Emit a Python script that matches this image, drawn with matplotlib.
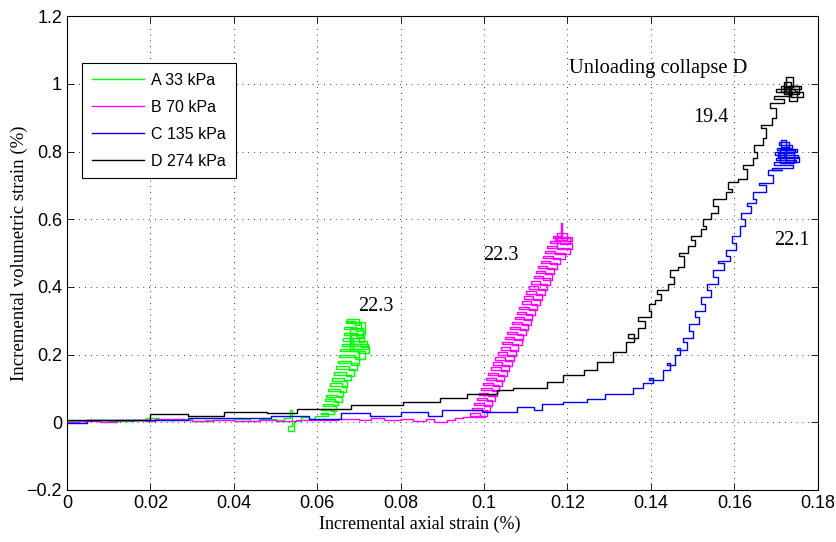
import matplotlib
matplotlib.use("Agg")
import matplotlib.pyplot as plt
from matplotlib.ticker import FuncFormatter

# A 33 kPa
xA = [0.000, 0.004, 0.010, 0.016, 0.019, 0.022, 0.026, 0.030, 0.033, 0.036, 0.040, 0.044,
      0.046, 0.050, 0.052, 0.0535, 0.0540, 0.0530, 0.0545, 0.0560, 0.0580, 0.0595,
      0.0600, 0.0625, 0.0608, 0.0640, 0.0610, 0.0632, 0.0645, 0.0615, 0.0638, 0.0650,
      0.0618, 0.0642, 0.0660, 0.0622, 0.0648, 0.0662, 0.0625, 0.0655, 0.0668, 0.0630,
      0.0660, 0.0672, 0.0635, 0.0665, 0.0680, 0.0640, 0.0670, 0.0688, 0.0645, 0.0675,
      0.0695, 0.0650, 0.0682, 0.0700, 0.0652, 0.0690, 0.0715, 0.0655, 0.0698, 0.0725,
      0.0660, 0.0705, 0.0720, 0.0662, 0.0700, 0.0712, 0.0665, 0.0695, 0.0710, 0.0664,
      0.0692, 0.0705, 0.0668, 0.0690, 0.0700, 0.0672, 0.0715, 0.0680, 0.0722, 0.0685,
      0.0710, 0.0678, 0.0700]
yA = [0.003, 0.006, 0.004, 0.008, 0.012, 0.008, 0.010, 0.004, 0.008, 0.006, 0.009, 0.005,
      0.010, 0.006, 0.012, 0.035, -0.010, -0.025, 0.005, 0.015, 0.010, 0.020,
      0.020, 0.028, 0.024, 0.035, 0.040, 0.032, 0.048, 0.055, 0.050, 0.062,
      0.068, 0.060, 0.075, 0.082, 0.078, 0.092, 0.098, 0.090, 0.108, 0.115,
      0.105, 0.122, 0.130, 0.125, 0.140, 0.148, 0.138, 0.158, 0.165, 0.155,
      0.175, 0.182, 0.170, 0.192, 0.200, 0.188, 0.210, 0.218, 0.205, 0.225,
      0.232, 0.222, 0.240, 0.248, 0.238, 0.258, 0.265, 0.252, 0.275, 0.282,
      0.270, 0.292, 0.300, 0.288, 0.305, 0.296, 0.262, 0.230, 0.218, 0.250,
      0.280, 0.210, 0.180]

# B 70 kPa
xB = [0.000, 0.003, 0.008, 0.012, 0.019, 0.021, 0.028, 0.030, 0.035, 0.040, 0.046, 0.050,
      0.055, 0.060, 0.065, 0.070, 0.073, 0.076, 0.080, 0.083, 0.086, 0.088, 0.091, 0.093,
      0.0950, 0.1003, 0.0966, 0.0990, 0.1008, 0.0970, 0.0996, 0.1015, 0.0975, 0.1000,
      0.1020, 0.0982, 0.1006, 0.1026, 0.0988, 0.1010, 0.1030, 0.0992, 0.1018, 0.1036,
      0.0998, 0.1022, 0.1044, 0.1004, 0.1028, 0.1048, 0.1010, 0.1034, 0.1055, 0.1016,
      0.1040, 0.1060, 0.1022, 0.1044, 0.1066, 0.1027, 0.1050, 0.1072, 0.1033, 0.1056,
      0.1076, 0.1040, 0.1062, 0.1082, 0.1044, 0.1068, 0.1090, 0.1050, 0.1072, 0.1094,
      0.1056, 0.1080, 0.1100, 0.1062, 0.1085, 0.1105, 0.1067, 0.1090, 0.1112, 0.1073,
      0.1096, 0.1116, 0.1079, 0.1100, 0.1122, 0.1084, 0.1108, 0.1128, 0.1090, 0.1112,
      0.1134, 0.1096, 0.1118, 0.1140, 0.1101, 0.1124, 0.1145, 0.1107, 0.1130, 0.1150,
      0.1113, 0.1135, 0.1158, 0.1119, 0.1142, 0.1162, 0.1124, 0.1146, 0.1168, 0.1130,
      0.1152, 0.1175, 0.1136, 0.1158, 0.1182, 0.1141, 0.1165, 0.1195, 0.1147, 0.1170,
      0.1205, 0.1152, 0.1176, 0.1210, 0.1158, 0.1182, 0.1205, 0.1165, 0.1185, 0.1188,
      0.1212, 0.1170, 0.1200, 0.1175]
yB = [0.000, 0.003, 0.002, 0.006, 0.004, 0.010, 0.008, 0.004, 0.006, 0.004, 0.008, 0.004,
      0.008, 0.006, 0.010, 0.006, 0.012, 0.006, 0.010, 0.004, 0.010, 0.002, 0.008, 0.012,
      0.016, 0.020, 0.027, 0.018, 0.035, 0.042, 0.033, 0.050, 0.057, 0.048,
      0.065, 0.072, 0.062, 0.080, 0.087, 0.078, 0.095, 0.102, 0.092, 0.110,
      0.117, 0.108, 0.125, 0.132, 0.122, 0.140, 0.147, 0.137, 0.155, 0.162,
      0.152, 0.170, 0.177, 0.167, 0.185, 0.192, 0.182, 0.200, 0.207, 0.197,
      0.215, 0.222, 0.212, 0.230, 0.237, 0.227, 0.245, 0.252, 0.242, 0.260,
      0.267, 0.257, 0.275, 0.282, 0.272, 0.290, 0.297, 0.287, 0.305, 0.312,
      0.302, 0.320, 0.327, 0.317, 0.335, 0.342, 0.332, 0.350, 0.357, 0.347,
      0.365, 0.372, 0.362, 0.380, 0.387, 0.377, 0.395, 0.402, 0.392, 0.410,
      0.417, 0.407, 0.425, 0.432, 0.422, 0.440, 0.447, 0.437, 0.455, 0.462,
      0.452, 0.470, 0.477, 0.467, 0.485, 0.492, 0.482, 0.500, 0.507, 0.497,
      0.515, 0.522, 0.512, 0.530, 0.537, 0.527, 0.545, 0.552, 0.590, 0.535,
      0.548, 0.540, 0.560, 0.520]

# C 135 kPa
xC = [0.000, 0.0047, 0.029, 0.049, 0.058, 0.0658, 0.0726, 0.080, 0.0866, 0.090, 0.0994,
      0.1078, 0.112, 0.114, 0.119, 0.1246, 0.129, 0.1358, 0.138, 0.1405, 0.1395, 0.143,
      0.1445, 0.1438, 0.1457, 0.147, 0.1462, 0.1486, 0.1478, 0.150, 0.1492, 0.1515, 0.1505,
      0.153, 0.152, 0.1545, 0.1535, 0.156, 0.155, 0.1575, 0.1562, 0.159, 0.158, 0.1605,
      0.1595, 0.1613, 0.1625, 0.1615, 0.164, 0.1630, 0.1653, 0.1645, 0.1675, 0.1660,
      0.1693, 0.1680, 0.1715, 0.1690, 0.1740, 0.1695, 0.1748, 0.1700, 0.1752, 0.1698,
      0.1745, 0.1702, 0.1738, 0.1708, 0.1730, 0.1712, 0.1725, 0.1755, 0.1705, 0.1742,
      0.1710, 0.1750, 0.1720]
yC = [-0.003, 0.006, 0.012, 0.019, 0.010, 0.026, 0.020, 0.030, 0.020, 0.036, 0.030,
      0.045, 0.036, 0.053, 0.060, 0.070, 0.085, 0.100, 0.115, 0.130, 0.125, 0.154,
      0.174, 0.168, 0.198, 0.220, 0.214, 0.237, 0.250, 0.270, 0.290, 0.310, 0.330,
      0.350, 0.370, 0.390, 0.410, 0.430, 0.450, 0.470, 0.478, 0.490, 0.510, 0.530,
      0.550, 0.580, 0.600, 0.620, 0.640, 0.648, 0.660, 0.680, 0.700, 0.708,
      0.730, 0.745, 0.745, 0.752, 0.760, 0.768, 0.775, 0.782, 0.790, 0.798,
      0.805, 0.812, 0.820, 0.828, 0.815, 0.835, 0.770, 0.785, 0.795, 0.765,
      0.808, 0.800, 0.780]

# D 274 kPa
xD = [0.000, 0.0199, 0.029, 0.0376, 0.048, 0.0552, 0.068, 0.0806, 0.0894, 0.096, 0.103,
      0.107, 0.115, 0.119, 0.124, 0.127, 0.131, 0.134, 0.136, 0.1345, 0.137, 0.1385,
      0.137, 0.140, 0.1395, 0.141, 0.1425, 0.1415, 0.144, 0.1455, 0.1445, 0.1465, 0.148,
      0.1468, 0.149, 0.1505, 0.1495, 0.152, 0.1533, 0.1525, 0.1545, 0.156, 0.155, 0.158,
      0.1595, 0.1585, 0.161, 0.163, 0.162, 0.1645, 0.1655, 0.1648, 0.1668, 0.1677, 0.1665,
      0.1690, 0.1700, 0.1685, 0.1720, 0.1695, 0.1735, 0.1700, 0.1745, 0.1712, 0.1760,
      0.1720, 0.1735, 0.1765, 0.1725, 0.1740, 0.1718, 0.1755, 0.1730, 0.1750]
yD = [0.008, 0.024, 0.018, 0.030, 0.027, 0.039, 0.050, 0.060, 0.071, 0.085, 0.095,
      0.100, 0.119, 0.139, 0.154, 0.178, 0.208, 0.237, 0.260, 0.250, 0.280, 0.300,
      0.310, 0.330, 0.350, 0.360, 0.380, 0.390, 0.410, 0.430, 0.450, 0.460, 0.490,
      0.500, 0.520, 0.540, 0.550, 0.570, 0.580, 0.600, 0.620, 0.640, 0.660, 0.680,
      0.690, 0.710, 0.720, 0.750, 0.760, 0.780, 0.800, 0.820, 0.840, 0.870, 0.880,
      0.900, 0.930, 0.945, 0.955, 0.965, 0.975, 0.985, 0.975, 0.995, 0.985,
      1.005, 0.960, 0.975, 1.020, 0.990, 0.970, 0.995, 0.950, 0.980]

labels = ["A 33 kPa", "B 70 kPa", "C 135 kPa", "D 274 kPa"]
colors = ["#00ff00", "#ff00ff", "#0000ff", "#000000"]

plt.rcParams["font.family"] = ["Liberation Serif", "DejaVu Serif"]

fig = plt.figure(figsize=(8.37, 5.42), dpi=100)
ax = fig.add_axes([0.080, 0.096, 0.897, 0.874])

for xs, ys, c, lab in zip([xA, xB, xC, xD], [yA, yB, yC, yD], colors, labels):
    ax.plot(xs, ys, color=c, lw=1.0, drawstyle="steps-post", label=lab)

ax.set_xlim(0, 0.18)
ax.set_ylim(-0.2, 1.2)
ax.set_xticks([0, 0.02, 0.04, 0.06, 0.08, 0.1, 0.12, 0.14, 0.16, 0.18])
ax.set_yticks([-0.2, 0, 0.2, 0.4, 0.6, 0.8, 1, 1.2])
fmt = FuncFormatter(lambda v, p: ("%g" % v).replace("-", "\u2212"))
ax.xaxis.set_major_formatter(fmt)
ax.yaxis.set_major_formatter(fmt)
ax.tick_params(direction="in", top=True, right=True, labelsize=13, length=5, width=0.6)
for t in ax.get_xticklabels() + ax.get_yticklabels():
    t.set_family(["Liberation Sans", "DejaVu Sans"])
ax.grid(True, color="black", linestyle=(0, (1, 6)), linewidth=0.6)
for s in ax.spines.values():
    s.set_linewidth(0.8)

ax.set_xlabel("Incremental axial strain (%)", fontsize=13)
ax.set_ylabel("Incremental volumetric strain (%)", fontsize=13.5)
ax.xaxis.set_label_coords(0.47, -0.055)
ax.yaxis.set_label_coords(-0.052, 0.5)

ax.text(0.074, 0.343, "22.3", fontsize=14.5, ha="center", va="center")
ax.text(0.104, 0.494, "22.3", fontsize=14.5, ha="center", va="center")
ax.text(0.1544, 0.90, "19.4", fontsize=14.5, ha="center", va="center")
ax.text(0.1738, 0.538, "22.1", fontsize=14.5, ha="center", va="center")
ax.text(0.1417, 1.047, "Unloading collapse D", fontsize=14.8, ha="center", va="center")

leg = ax.legend(loc="upper left", bbox_to_anchor=(0.02, 0.901), borderaxespad=0,
                fancybox=False, framealpha=1, edgecolor="black", handlelength=3.3,
                handletextpad=0.45, borderpad=0.6, labelspacing=0.75,
                prop={"family": "Liberation Sans", "size": 11.5})
leg.get_frame().set_linewidth(0.8)

fig.savefig("out.png", dpi=100)
